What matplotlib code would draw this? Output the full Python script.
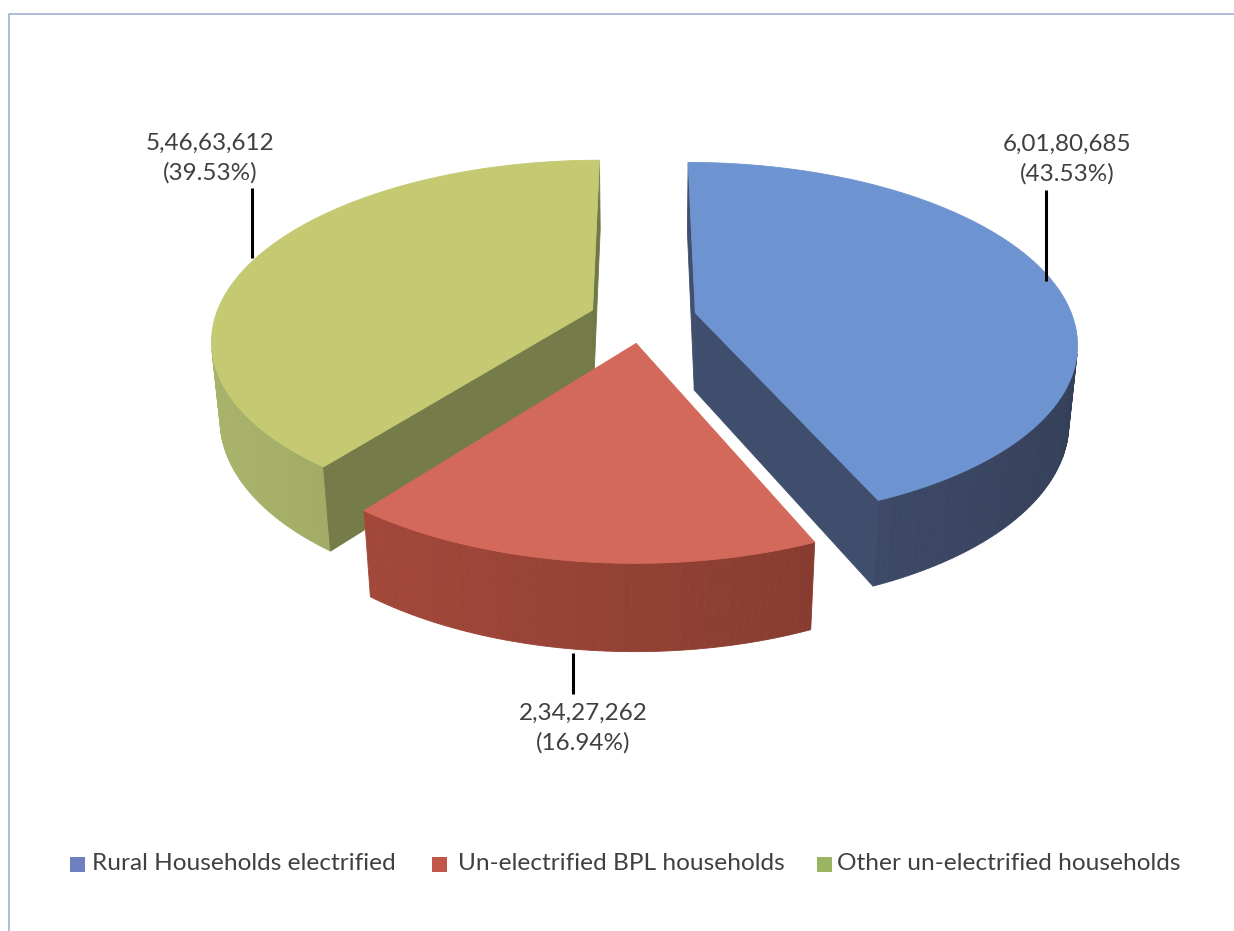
import numpy as np
import matplotlib
matplotlib.use('Agg')
import matplotlib.pyplot as plt
from matplotlib.patches import Polygon, Rectangle
from matplotlib.colors import to_rgb

# ---------------- data ----------------
categories = ['Rural Households electrified',
              'Un-electrified BPL households',
              'Other un-electrified households']
values = [60180685, 23427262, 54663612]
value_labels = ['6,01,80,685', '2,34,27,262', '5,46,63,612']
pct_labels = ['(43.53%)', '(16.94%)', '(39.53%)']

# ---------------- style ----------------
top_colors = ['#6d94d0', '#d3695a', '#c4c972']
wall_colors = ['#3f4c6b', '#8c3e32', '#8c9458']
legend_colors = ['#6e7fbf', '#c0574a', '#9bb462']
FONT = 'Lato'
plt.rcParams['font.family'] = [FONT, 'DejaVu Sans']

# ---------------- 3D geometry (layout) ----------------
CX, CY = 643.0, 318.0
TILT = np.arcsin(0.466)
SA, CA = np.sin(TILT), np.cos(TILT)
DIST, FOC = 5.56, 2100.0
THICK = 0.236
EXPLODE = 0.142
CAM = np.array([0.0, DIST * SA, -DIST * CA])   # (u, h, v)


def project(u, h, v):
    yc = v * SA + h * CA
    zc = v * CA - h * SA
    s = FOC / (DIST + zc)
    return CX + u * s, CY - yc * s


def shade(color, factor):
    r, g, b = to_rgb(color)
    return tuple(min(1, max(0, c * factor)) for c in (r, g, b))


fig = plt.figure(figsize=(12.34, 9.31), dpi=100)
ax = fig.add_axes([0, 0, 1, 1])
ax.set_xlim(0, 1234)
ax.set_ylim(931, 0)
ax.axis('off')

# chart frame (right and bottom edges lie outside the picture)
ax.plot([9, 9, 1300], [1000, 14, 14], color='#a9b5d2', lw=1.3, clip_on=True)

vals = np.array(values, dtype=float)
frac = vals / vals.sum()
bounds = np.concatenate([[0], np.cumsum(frac)]) * 2 * np.pi
slices = []
for i in range(len(values)):
    ts, te = bounds[i], bounds[i + 1]
    tm = 0.5 * (ts + te)
    ou, ov = EXPLODE * np.sin(tm), EXPLODE * np.cos(tm)
    slices.append((i, ts, te, ou, ov))

# draw far slices first
slices.sort(key=lambda s: -s[4])


def draw_face(pts3d, normal, color):
    pts3d = np.array(pts3d)
    centre = pts3d.mean(axis=0)
    if np.dot(normal, CAM - centre) <= 0:
        return
    xy = [project(*p) for p in pts3d]
    ax.add_patch(Polygon(xy, closed=True, facecolor=color, edgecolor=color, lw=0.6))


for i, ts, te, ou, ov in slices:
    base = wall_colors[i]
    # outer wall
    th = np.linspace(ts, te, max(8, int((te - ts) * 180 / np.pi)))
    for t1, t2 in zip(th[:-1], th[1:]):
        tmid = 0.5 * (t1 + t2)
        n = np.array([np.sin(tmid), 0, np.cos(tmid)])
        fac = 1 + 0.2 * (-n[0]) + 0.05 * (-n[2])
        pts = [(ou + np.sin(t1), 0, ov + np.cos(t1)),
               (ou + np.sin(t2), 0, ov + np.cos(t2)),
               (ou + np.sin(t2), -THICK, ov + np.cos(t2)),
               (ou + np.sin(t1), -THICK, ov + np.cos(t1))]
        draw_face(pts, n, shade(base, fac))
    # radial faces
    for t, sign in ((ts, -1), (te, 1)):
        n = sign * np.array([np.cos(t), 0, -np.sin(t)])
        fac = 1 + 0.12 * (-n[0])
        pts = [(ou, 0, ov), (ou + np.sin(t), 0, ov + np.cos(t)),
               (ou + np.sin(t), -THICK, ov + np.cos(t)), (ou, -THICK, ov)]
        draw_face(pts, n, shade(base, fac * 0.92))
    # top face
    tt = np.linspace(ts, te, 200)
    xy = [project(ou, 0, ov)] + [project(ou + np.sin(t), 0, ov + np.cos(t)) for t in tt]
    ax.add_patch(Polygon(xy, closed=True, facecolor=top_colors[i],
                         edgecolor=top_colors[i], lw=0.6))

# ---------------- data labels (layout positions) ----------------
label_pos = [(1067, 159), (583, 728), (210, 158)]
leaders = [((1046, 1046), (190, 281)), ((573, 573), (653, 694)), ((252, 252), (188, 258))]
for i in range(3):
    x, y = label_pos[i]
    ax.text(x, y, value_labels[i] + '\n' + pct_labels[i], ha='center', va='center',
            fontsize=17.5, color='#404040', linespacing=1.45)
    lx, ly = leaders[i]
    ax.plot(lx, ly, color='black', lw=2.2, solid_capstyle='butt')

# ---------------- legend ----------------
leg_sq_x = [70, 432, 817]
leg_txt_x = [92, 458, 837]
for i in range(3):
    ax.add_patch(Rectangle((leg_sq_x[i], 857), 15, 15, facecolor=legend_colors[i], edgecolor='none'))
    ax.text(leg_txt_x[i], 864, categories[i], ha='left', va='center', fontsize=17.6, color='#404040')

fig.savefig('out.png', dpi=100)
